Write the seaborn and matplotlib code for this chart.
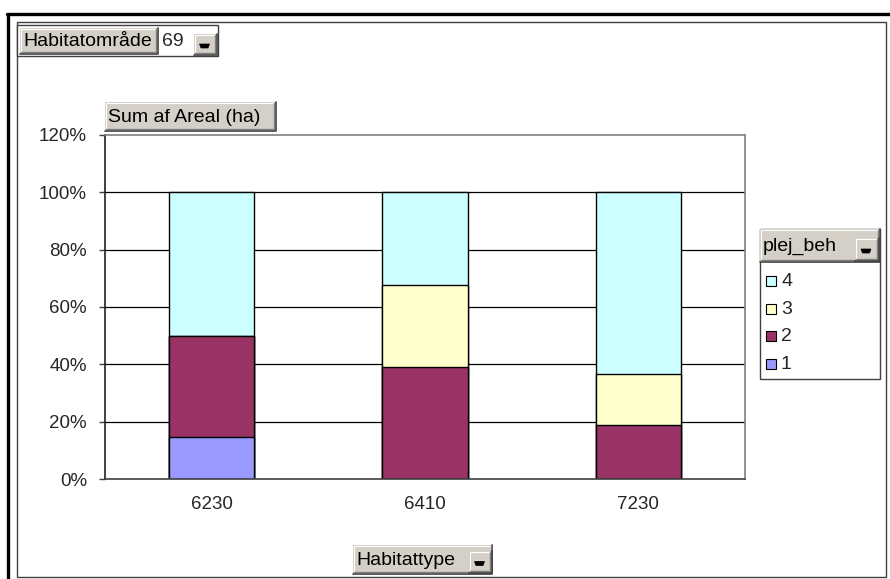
"""
Pivotdiagram: andel af areal (ha) pr. habitattype, fordelt på plej_beh.
"""

import matplotlib.pyplot as plt
import numpy as np
import seaborn as sns
from matplotlib.lines import Line2D
from matplotlib.patches import Polygon, Rectangle

habitattyper = ["6230", "6410", "7230"]
plej_beh = ["1", "2", "3", "4"]
andel_1 = [14.8, 0.0, 0.0]
andel_2 = [35.0, 39.2, 19.0]
andel_3 = [0.0, 28.6, 17.8]
andel_4 = [50.2, 32.2, 63.2]
farver = {"1": "#9999FF", "2": "#993366", "3": "#FFFFCC", "4": "#CCFFFF"}
y_ticks = [0, 20, 40, 60, 80, 100, 120]

W, H = 890, 579
KNAP_FARVE = "#D4D0C8"

sns.set_theme(style="white")
plt.rcParams["font.family"] = ["Liberation Sans", "DejaVu Sans"]
FS = 13.5
FS_KNAP = 14

fig = plt.figure(figsize=(W / 100, H / 100), dpi=100)
fig.patch.set_facecolor("white")


def rect(x0, y0, x1, y1, **kw):
    fig.add_artist(Rectangle((x0 / W, 1 - y1 / H), (x1 - x0) / W, (y1 - y0) / H,
                             transform=fig.transFigure, **kw))


def linje(xs, ys, **kw):
    fig.add_artist(Line2D([x / W for x in xs], [1 - y / H for y in ys],
                          transform=fig.transFigure, **kw))


def knap(x0, y0, x1, y1, tekst=None):
    rect(x0, y0, x1, y1, facecolor=KNAP_FARVE, edgecolor="none")
    linje([x0 + 0.5, x0 + 0.5, x1 - 1], [y1 - 1, y0 + 0.5, y0 + 0.5], color="white", lw=0.8)
    linje([x0, x1 - 0.5, x1 - 0.5], [y1 - 0.5, y1 - 0.5, y0], color="#404040", lw=1.2)
    linje([x0 + 1, x1 - 2, x1 - 2], [y1 - 2, y1 - 2, y0 + 1], color="#808080", lw=1.0)
    if tekst:
        fig.text((x0 + 3) / W, 1 - ((y0 + y1) / 2 + 1) / H, tekst, fontsize=FS_KNAP,
                 ha="left", va="center", color="black")


def pil(x0, y0, x1, y1):
    knap(x0, y0, x1, y1)
    cx, cy = (x0 + x1) / 2 - 1, (y0 + y1) / 2 + 1
    pts = [(cx - 5, cy - 1.5), (cx + 5, cy - 1.5), (cx + 3.5, cy + 2.5), (cx - 3.5, cy + 2.5)]
    fig.add_artist(Polygon([(x / W, 1 - y / H) for x, y in pts], closed=True,
                           transform=fig.transFigure, facecolor="black", edgecolor="black", lw=0.5))


# ramme om hele diagrammet
rect(17, 22, 886, 577, facecolor="none", edgecolor="#404040", lw=1.0)
linje([7, 890], [14, 14], color="black", lw=2.4)
linje([8, 8], [14, 579], color="black", lw=2.4)

# plotområde
ax = fig.add_axes([105 / W, 1 - 479 / H, 640 / W, 344 / H])
kumuleret = np.cumsum([andel_1, andel_2, andel_3, andel_4], axis=0)
for serie, hoejde in reversed(list(zip(plej_beh, kumuleret))):
    sns.barplot(x=habitattyper, y=hoejde, color=farver[serie], saturation=1,
                edgecolor="black", linewidth=1.0, width=0.4, errorbar=None, ax=ax)

ax.set_xlim(-0.5, 2.5)
ax.set_ylim(0, 120)
ax.set_yticks(y_ticks)
ax.set_yticklabels([f"{v}%" for v in y_ticks], fontsize=FS)
ax.set_xticks(range(len(habitattyper)))
ax.set_xticklabels(habitattyper, fontsize=FS)
ax.set_xticks([-0.5, 0.5, 1.5, 2.5], minor=True)
ax.tick_params(axis="x", which="major", length=0, pad=12)
ax.tick_params(axis="x", which="minor", length=4, width=1, color="#404040", direction="out")
ax.tick_params(axis="y", length=4, width=1, color="#404040", direction="out", pad=9, left=True)
ax.set_xlabel("")
ax.set_ylabel("")
for v in y_ticks[1:-1]:
    ax.axhline(v, color="black", lw=0.9, zorder=0.5)
ax.spines["left"].set_color("#202020")
ax.spines["bottom"].set_color("#404040")
ax.spines["top"].set_color("#808080")
ax.spines["right"].set_color("#808080")
for s in ax.spines.values():
    s.set_linewidth(1.2)
    s.set_visible(True)

# sidefelt og datafelt
rect(17, 25, 218, 56, facecolor="white", edgecolor="#404040", lw=1.0)
knap(20, 28, 158, 54, "Habitatområde")
fig.text(162 / W, 1 - 41 / H, "69", fontsize=FS_KNAP, ha="left", va="center")
pil(194, 34, 217, 55)
knap(105, 102, 276, 131, "Sum af Areal (ha)")
knap(353, 545, 493, 574, "Habitattype")
pil(469, 551, 492, 573)

# forklaring
rect(760, 229, 880, 379, facecolor="white", edgecolor="#404040", lw=1.0)
knap(760, 229, 880, 262, "plej_beh")
pil(855, 238, 879, 261)
for i, serie in enumerate(reversed(plej_beh)):
    yc = 281 + i * 27.7
    rect(766, yc - 5, 776, yc + 5, facecolor=farver[serie], edgecolor="black", lw=0.8)
    fig.text(781 / W, 1 - (yc + 0.5) / H, serie, fontsize=FS_KNAP, ha="left", va="center")

fig.savefig("out.png", dpi=100)
